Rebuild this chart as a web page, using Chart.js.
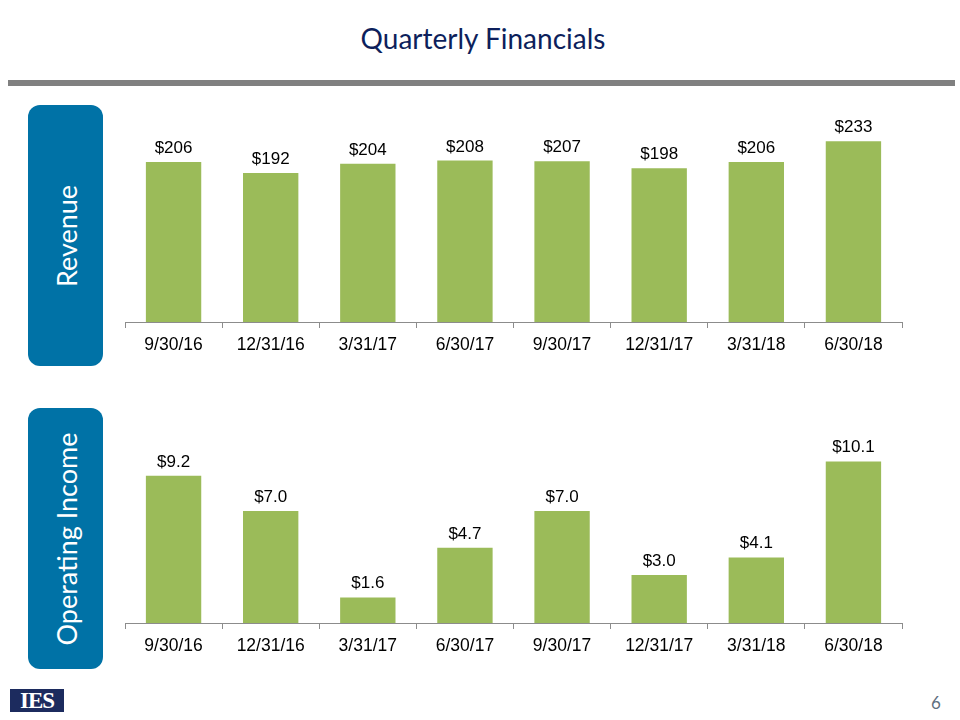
<!DOCTYPE html>
<html>
<head>
<meta charset="utf-8">
<script src="https://cdn.jsdelivr.net/npm/chart.js@4.4.1/dist/chart.umd.min.js"></script>
<style>
  body { margin: 0; width: 960px; height: 720px; background: #fff; position: relative; overflow: hidden; font-family: Lato, "Open Sans", sans-serif; }
  #title { position: absolute; left: 0; width: 966px; top: 21px; text-align: center; font-size: 28px; color: #0d1f5c; }
  #rule { position: absolute; left: 8px; width: 947px; top: 80px; height: 6px; background: #808080; }
  .side { position: absolute; left: 28px; width: 75px; background: #0072a6; border-radius: 12px; }
  .side span { position: absolute; left: 50%; top: 50%; transform: translate(-50%, -50%) rotate(-90deg); white-space: nowrap; color: #fff; font-size: 27px; }
  .wrap { position: absolute; left: 115px; width: 800px; }
  #logo { position: absolute; left: 10px; top: 689px; width: 54px; height: 23px; background: #1c2b5e; color: #fff; font-family: "Liberation Serif", serif; font-weight: bold; font-size: 23px; line-height: 24px; text-align: center; letter-spacing: -1px; }
  #page { position: absolute; left: 931px; top: 692px; font-size: 17px; color: #5f6f80; }
</style>
</head>
<body>
<div id="title">Quarterly Financials</div>
<div id="rule"></div>
<div class="side" style="top:105px;height:261px"><span>Revenue</span></div>
<div class="side" style="top:408px;height:261px"><span>Operating Income</span></div>
<div class="wrap" style="top:100px;height:262px"><canvas id="revChart" width="800" height="262"></canvas></div>
<div class="wrap" style="top:400px;height:263px"><canvas id="opChart" width="800" height="263"></canvas></div>
<div id="logo">IES</div>
<div id="page">6</div>
<script>
// quarters
const quarters = ['9/30/16', '12/31/16', '3/31/17', '6/30/17', '9/30/17', '12/31/17', '3/31/18', '6/30/18'];
// revenue, $ millions
const revenue = [206, 192, 204, 208, 207, 198, 206, 233];
// operating income, $ millions
const operatingIncome = [9.2, 7.0, 1.6, 4.7, 7.0, 3.0, 4.1, 10.1];

const barColor = '#9bbb59';

// labels above each bar
const valueLabels = {
    id: 'valueLabels',
    afterDatasetsDraw(chart, args, opts) {
        const ctx = chart.ctx;
        const meta = chart.getDatasetMeta(0);
        ctx.save();
        ctx.font = '17px Arial, "Liberation Sans", sans-serif';
        ctx.fillStyle = '#000';
        ctx.textAlign = 'center';
        ctx.textBaseline = 'alphabetic';
        meta.data.forEach((bar, i) => {
            const v = chart.data.datasets[0].data[i];
            ctx.fillText('$' + v.toFixed(opts.decimals), bar.x, bar.y - 9);
        });
        ctx.restore();
    }
};

function makeChart(id, values, max, decimals) {
    return new Chart(document.getElementById(id), {
        type: 'bar',
        data: {
            labels: quarters,
            datasets: [{
                data: values,
                backgroundColor: barColor,
                categoryPercentage: 1,
                barPercentage: 0.57
            }]
        },
        options: {
            responsive: false,
            animation: false,
            layout: { padding: { left: 10, right: 13, top: 0, bottom: 0 } },
            plugins: {
                legend: { display: false },
                tooltip: { enabled: false },
                valueLabels: { decimals: decimals }
            },
            scales: {
                y: { display: false, min: 0, max: max },
                x: {
                    afterFit: (scale) => { scale.height = 40; },
                    border: { color: '#8c8c8c', width: 1 },
                    grid: { drawOnChartArea: false, drawTicks: true, tickLength: 6, color: '#8c8c8c', offset: true },
                    ticks: { color: '#000', padding: 7, font: { family: 'Arial, "Liberation Sans", sans-serif', size: 17.5 } }
                }
            }
        },
        plugins: [valueLabels]
    });
}

makeChart('revChart', revenue, 286, 0);
makeChart('opChart', operatingIncome, 13.94, 1);
</script>
</body>
</html>
